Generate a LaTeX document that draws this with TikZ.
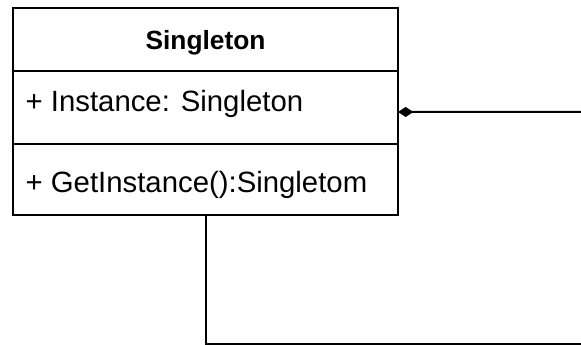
\documentclass[tikz,border=0pt]{standalone}
\usepackage{fontspec}
\setmainfont{Liberation Sans}
\usetikzlibrary{arrows.meta}

\begin{document}
\begin{tikzpicture}[x=0.3pt,y=-0.3pt,
    cell/.style={draw,line width=0.6pt,minimum width=115.5pt,inner sep=0pt,outer sep=0pt,anchor=north west},
    member/.style={font=\fontsize{8.8}{10}\selectfont,anchor=base west,inner sep=0pt}]
    \useasboundingbox (0,0) rectangle (581,345);

    % Class box
    \node[cell,minimum height=18.9pt] (head) at (13,8) {};
    \node[cell,minimum height=21.9pt] (attr) at (head.south west) {};
    \node[cell,minimum height=21.3pt] (meth) at (attr.south west) {};

    % Texts
    \node[font=\fontsize{7.9}{9}\selectfont\bfseries,anchor=base,inner sep=0pt] (name) at (205.5,50) {Singleton};
    \node[member] (inst) at (25,112) {+ Instance: Singleton};
    \node[member] (getinst) at (25,193) {+ GetInstance():Singletom};

    % Self association
    \coordinate (selfOut) at (581,112);
    \coordinate (selfBot) at (581,344.5);
    \draw[line width=0.6pt,{Diamond[length=4.6pt,width=3pt]}-] ([yshift=-1.35pt]attr.east) -- (selfOut);
    \draw[line width=0.6pt] (meth.south) |- (selfBot);
\end{tikzpicture}
\end{document}
